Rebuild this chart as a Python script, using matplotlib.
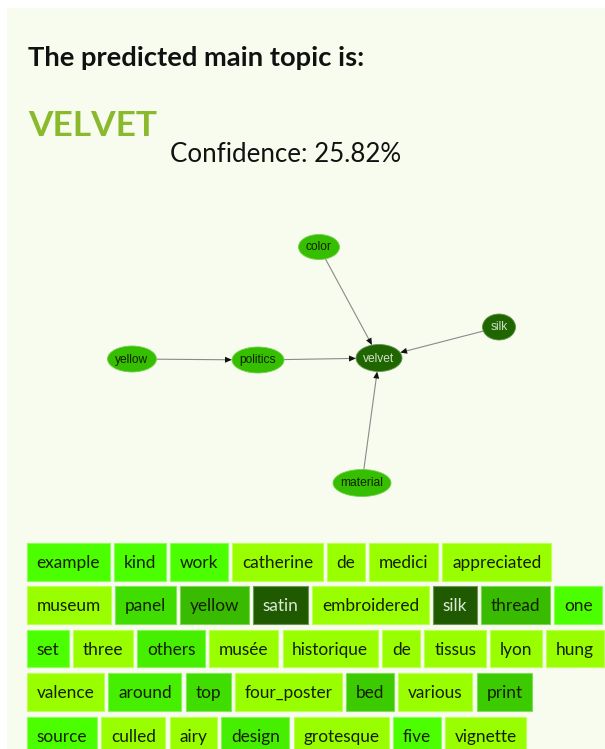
import numpy as np
import matplotlib
matplotlib.use("Agg")
import matplotlib.pyplot as plt
import matplotlib.patches as mpatches

# prediction
topic = "VELVET"
confidence = 25.82

# topic graph: nodes, their weight class (1 = main), and edges
nodes = ["color", "silk", "yellow", "politics", "velvet", "material"]
node_main = [0, 1, 0, 0, 1, 0]
edges = [("color", "velvet"), ("silk", "velvet"), ("yellow", "politics"),
         ("politics", "velvet"), ("material", "velvet")]

# word tags and their relevance level (0 = low ... 6 = high)
tag_words = ["example", "kind", "work", "catherine", "de", "medici", "appreciated",
             "museum", "panel", "yellow", "satin", "embroidered", "silk", "thread", "one",
             "set", "three", "others", "musée", "historique", "de", "tissus", "lyon", "hung",
             "valence", "around", "top", "four_poster", "bed", "various", "print",
             "source", "culled", "airy", "design", "grotesque", "five", "vignette"]
tag_levels = [1, 1, 1, 0, 0, 0, 0,
              0, 3, 5, 6, 0, 6, 5, 1,
              1, 0, 2, 0, 0, 0, 0, 0, 0,
              0, 2, 3, 0, 4, 0, 4,
              1, 0, 0, 2, 0, 1, 0]
row_sizes = [7, 8, 9, 7, 7]

# ---- styles / layout ----
level_colors = ["#99FF00", "#4CFF00", "#46EE00", "#40DD00", "#3CCB00", "#38BB00", "#1F5A00"]
node_pos = {"color": (319, 247), "silk": (499, 327), "yellow": (132, 359),
            "politics": (258, 360), "velvet": (379, 358), "material": (362, 483)}
node_size = {"color": (41, 25), "silk": (33, 26), "yellow": (49, 26),
             "politics": (52, 26), "velvet": (46, 27), "material": (58, 27)}

W, H = 605, 749
fig = plt.figure(figsize=(W / 100, H / 100), dpi=100, facecolor="white")
ax = fig.add_axes([0, 0, 1, 1])
ax.set_xlim(0, W)
ax.set_ylim(H, 0)
ax.axis("off")
renderer = fig.canvas.get_renderer()


def width(t):
    return t.get_window_extent(renderer).width


def fit(t, target):
    t.set_fontsize(t.get_fontsize() * target / width(t))


def lighten(c, f):
    r = np.array(matplotlib.colors.to_rgb(c))
    return tuple(r + (1 - r) * f)


# page background
ax.add_patch(mpatches.Rectangle((7, 8), W, H, fc="#F8FCEE", ec="none", zorder=0))

# headings
t = ax.text(28, 66, "The predicted main topic is:", fontsize=14, fontweight="bold",
            family="Lato", color="#111111", va="baseline")
fit(t, 338)
t = ax.text(28, 136, topic, fontsize=20, fontweight="bold", family="Lato",
            color="#8AB92D", va="baseline")
fit(t, 129)
t = ax.text(170, 162, "Confidence: %.2f%%" % confidence, fontsize=14, family="Lato",
            color="#111111", va="baseline")
fit(t, 231)

# graph edges
for a, b in edges:
    p, q = np.array(node_pos[a], float), np.array(node_pos[b], float)
    d = q - p
    ra, rb = np.array(node_size[a]) / 2, np.array(node_size[b]) / 2
    s = p + d / np.sqrt((d[0] / ra[0]) ** 2 + (d[1] / ra[1]) ** 2)
    e = q - d / np.sqrt((d[0] / rb[0]) ** 2 + (d[1] / rb[1]) ** 2)
    u = (e - s) / np.linalg.norm(e - s)
    n = np.array([-u[1], u[0]])
    base = e - u * 7
    ax.plot([s[0], base[0]], [s[1], base[1]], color="#8a8a8a", lw=0.8, zorder=2)
    ax.add_patch(mpatches.Polygon([e, base + n * 3, base - n * 3], closed=True,
                                  fc="#111111", ec="none", zorder=3))

# graph nodes
probe = ax.text(0, 0, "material", family="Liberation Sans", fontsize=8)
fit(probe, 43)
node_font = probe.get_fontsize()
probe.remove()
for name, main in zip(nodes, node_main):
    fc = "#1F6600" if main else "#36BE00"
    w, h = node_size[name]
    ax.add_patch(mpatches.Ellipse(node_pos[name], w, h, fc=fc, ec=lighten(fc, 0.3),
                                  lw=0.6, zorder=4))
    ax.text(node_pos[name][0], node_pos[name][1] + 0.5, name, family="Liberation Sans",
            fontsize=node_font, ha="center", va="center",
            color="#d0e0c8" if main else "#0f2200", zorder=5)

# word tags: font sized so the second row spans the container like the page does
x0, y0, tag_h, pitch, pad, gap = 27, 543, 37.5, 43.4, 9.7, 4.2
row2 = tag_words[row_sizes[0]:row_sizes[0] + row_sizes[1]]
probe = ax.text(0, 0, " ".join(row2), family="Lato", fontsize=12)
space = ax.text(0, 0, " ", family="Lato", fontsize=12)
tw_sum = sum(width(ax.text(0, 0, wd, family="Lato", fontsize=12)) for wd in row2)
for txt in list(ax.texts)[-(len(row2) + 2):]:
    txt.remove()
target = (600 - x0) - 2 * pad * len(row2) - gap * (len(row2) - 1)
tag_font = 12 * target / tw_sum

i = 0
for r, cnt in enumerate(row_sizes):
    x = x0
    y = y0 + r * pitch
    for k in range(cnt):
        word, lev = tag_words[i], tag_levels[i]
        fc = level_colors[lev]
        t = ax.text(x + pad, y + 25, word, family="Lato", fontsize=tag_font,
                    color="#dde8d8" if lev == 6 else "#142000", va="baseline", zorder=6)
        bw = width(t) + 2 * pad
        ax.add_patch(mpatches.Rectangle((x, y), bw, tag_h, fc=fc, ec=lighten(fc, 0.35),
                                        lw=0.8, zorder=5))
        x += bw + gap
        i += 1

fig.savefig("out.png", dpi=100, facecolor="white")
